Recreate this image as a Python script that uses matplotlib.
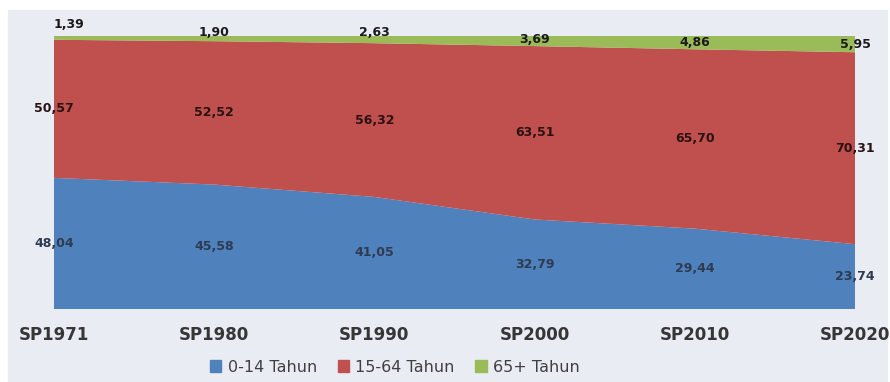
import matplotlib.pyplot as plt
from matplotlib.patches import Patch, Rectangle

# data (percent of population)
censuses = ['SP1971', 'SP1980', 'SP1990', 'SP2000', 'SP2010', 'SP2020']
age_0_14 = [48.04, 45.58, 41.05, 32.79, 29.44, 23.74]
age_15_64 = [50.57, 52.52, 56.32, 63.51, 65.70, 70.31]
age_65 = [1.39, 1.90, 2.63, 3.69, 4.86, 5.95]
series_names = ['0-14 Tahun', '15-64 Tahun', '65+ Tahun']

colors = ['#4f81bd', '#c0504d', '#9bbb59']
bg = '#e9ecf3'

W, H = 890, 382
fig = plt.figure(figsize=(W / 100, H / 100), dpi=100)
fig.patch.set_facecolor('white')
fig.patches.append(Rectangle((8 / W, 0), 879 / W, 1 - 10 / H,
                             transform=fig.transFigure, color=bg, zorder=-10))

ax = fig.add_axes([54 / W, 1 - 309 / H, (855 - 54) / W, (309 - 36) / H])
ax.set_facecolor('none')
x = list(range(len(censuses)))
ax.stackplot(x, age_0_14, age_15_64, age_65, colors=colors)
ax.set_xlim(0, len(censuses) - 1)
ax.set_ylim(0, 100)
ax.set_yticks([])
ax.set_xticks(x)
ax.set_xticklabels(censuses, fontsize=12, fontweight='bold', color='#363636')
ax.tick_params(axis='x', length=0, pad=12)
for s in ax.spines.values():
    s.set_visible(False)

def fmt(v):
    return f'{v:.2f}'.replace('.', ',')

lab = dict(fontsize=9, fontweight='bold', ha='center', va='center')
# nudges (pixels) for the thin top band labels
green_dy = [13, 6, 7, 2, 0, 0]
green_dx = [15, 0, 0, 0, 0, 0]
for i in x:
    b, r, g = age_0_14[i], age_15_64[i], age_65[i]
    ax.text(i, b / 2, fmt(b), color='#2e3b50', **lab)
    ax.text(i, b + r / 2, fmt(r), color='#2a1212', **lab)
    ax.annotate(fmt(g), (i, b + r + g / 2), xytext=(green_dx[i] * 0.72, green_dy[i] * 0.72),
                textcoords='offset points', color='#1a1a1a', annotation_clip=False, **lab)

handles = [Patch(color=c) for c in colors]
fig.legend(handles, series_names, loc='center', bbox_to_anchor=(395 / W, 1 - 367 / H),
           ncol=3, frameon=False, handlelength=0.7, handleheight=0.7,
           handletextpad=0.4, columnspacing=1.3,
           prop={'size': 11.5}, labelcolor='#404040')

fig.savefig('out.png', dpi=100, facecolor=fig.get_facecolor())
